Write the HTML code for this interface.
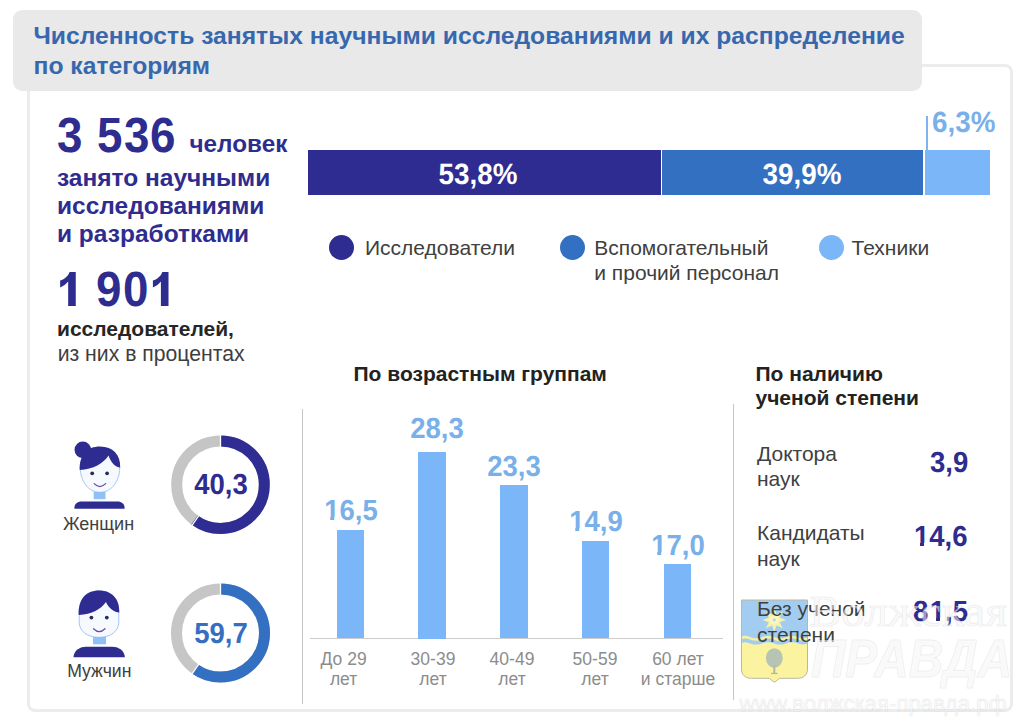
<!DOCTYPE html>
<html lang="ru">
<head>
<meta charset="utf-8">
<title>Численность занятых научными исследованиями</title>
<style>
html,body{margin:0;padding:0;}
body{width:1024px;height:724px;position:relative;overflow:hidden;background:#fff;font-family:"Liberation Sans",sans-serif;}
.abs{position:absolute;white-space:nowrap;line-height:1;}
.b{font-weight:bold;}
#card{position:absolute;left:27px;top:64px;width:980px;height:642px;border:3px solid #ececec;border-radius:8px;background:#fff;}
#titlebox{position:absolute;left:13px;top:10px;width:908.5px;height:81.4px;border-radius:9px;background:#e9e9e9;}
#title{left:33.5px;top:20.5px;font-size:24.68px;line-height:30.2px;color:#3768ad;font-weight:bold;white-space:normal;width:900px;}
.dk{color:#2f2c8f;}
.md{color:#3470c2;}
.lt{color:#7ab0e9;}
.tx{color:#404040;}
.gr{color:#8a8a8a;}
.seg{position:absolute;top:149.5px;height:45px;}
.dot{position:absolute;width:25px;height:25px;border-radius:50%;}
.bar{position:absolute;background:#7ab6f8;width:27.3px;}
.val{font-size:27.5px;font-weight:bold;color:#7ab0e9;transform:translateX(-50%) scaleY(1.055) rotate(0.03deg);transform-origin:50% 84.5%;}
.sy{transform:scaleY(1.055) rotate(0.03deg);transform-origin:0 84.5%;}
.syc{transform:translateX(-50%) scaleY(1.055) rotate(0.03deg);transform-origin:50% 84.5%;}
.ft{position:absolute;background:#fff;top:0.735em;height:0.125em;}
.ax{font-size:17.5px;color:#8c8c8c;transform:translateX(-50%);text-align:center;line-height:19.4px;}
.wmt{color:rgba(255,255,255,0.55);-webkit-text-stroke:1px rgba(120,120,120,0.09);text-shadow:0 0 2px rgba(0,0,0,0.05);}
.bn{font-size:45.7px;transform:scaleY(1.08) rotate(0.03deg);transform-origin:0 83.9%;}
.vline{position:absolute;width:1.4px;background:#c6c6c6;}
</style>
</head>
<body>
<div id="card"></div>
<div id="titlebox"></div>
<div id="title" class="abs">Численность занятых научными исследованиями и их распределение<br>по категориям</div>

<!-- left block -->
<div id="n1"><span class="abs b dk bn" style="left:57.20px;top:113.65px;">3</span><span class="abs b dk bn" style="left:96.85px;top:113.65px;">5</span><span class="abs b dk bn" style="left:123.60px;top:113.65px;">3</span><span class="abs b dk bn" style="left:149.60px;top:113.65px;">6</span></div>
<div class="abs b dk" id="n1s" style="left:189.5px;top:131.5px;font-size:24.3px;">человек</div>
<div class="abs b dk" id="l1" style="left:57px;top:163.6px;font-size:24.5px;line-height:28.1px;">занято научными<br>исследованиями<br>и разработками</div>
<div id="n2"><span class="abs b dk bn" style="left:96.40px;top:267.65px;">9</span><span class="abs b dk bn" style="left:123.30px;top:267.65px;">0</span><svg class="abs" style="left:0;top:0;" width="200" height="320" viewBox="0 0 200 320"><path d="M75.75,306.0 L75.75,272.0 L69.55,272.0 C68.55,275.60 64.75,279.20 60.15,280.60 L60.15,287.40 C63.45,286.20 66.15,284.20 68.15,281.60 L68.15,306.0 Z" fill="#2f2c8f"/><path d="M168.5,306.0 L168.5,272.0 L162.30,272.0 C161.30,275.60 157.50,279.20 152.90,280.60 L152.90,287.40 C156.20,286.20 158.90,284.20 160.90,281.60 L160.90,306.0 Z" fill="#2f2c8f"/></svg></div>
<div class="abs b" id="l2" style="left:57px;top:317.7px;font-size:21px;color:#262626;">исследователей,</div>
<div class="abs" id="l3" style="left:57.7px;top:343.4px;font-size:21.2px;color:#3e3e3e;">из них в процентах</div>

<!-- stacked bar -->
<div class="seg" style="left:307.7px;width:353px;background:#2f2c91;"></div>
<div class="seg" style="left:662.3px;width:260.7px;background:#3470c2;"></div>
<div class="seg" style="left:925px;width:64.7px;background:#7ab6f8;"></div>
<div class="abs b syc" id="p1" style="left:477.5px;top:161px;font-size:27.8px;color:#fff;">53,8%</div>
<div class="abs b syc" id="p2" style="left:802px;top:161px;font-size:27.8px;color:#fff;">39,9%</div>
<div class="abs b lt sy" id="p3" style="left:931.5px;top:108.5px;font-size:27.8px;">6,3%</div>
<div style="position:absolute;left:926px;top:116px;width:1.5px;height:34px;background:#7fb4ee;"></div>

<!-- legend -->
<div class="dot" style="left:329px;top:235px;background:#2f2c91;"></div>
<div class="abs tx" id="g1" style="left:365px;top:236.7px;font-size:21px;">Исследователи</div>
<div class="dot" style="left:560px;top:235px;background:#3470c2;"></div>
<div class="abs tx" id="g2" style="left:594.3px;top:234.7px;font-size:21px;line-height:25px;">Вспомогательный<br>и прочий персонал</div>
<div class="dot" style="left:819px;top:235px;background:#7ab6f8;"></div>
<div class="abs tx" id="g3" style="left:851.5px;top:236.7px;font-size:21px;">Техники</div>

<!-- section titles -->
<div class="abs b" id="t1" style="left:353.5px;top:363.2px;font-size:21px;color:#222;">По возрастным группам</div>
<div class="abs b" id="t2" style="left:755.5px;top:362px;font-size:21px;line-height:24px;color:#222;">По наличию<br>ученой степени</div>

<div class="vline" style="left:302px;top:408.5px;height:295.5px;"></div>
<div class="vline" style="left:732.8px;top:404px;height:296px;"></div>
<div style="position:absolute;left:310px;top:637.8px;width:412.8px;height:1px;background:#cdcdcd;"></div>

<!-- bars -->
<div class="bar" style="left:336.6px;top:530.3px;height:108.2px;"></div>
<div class="bar" style="left:418.4px;top:452px;height:186.5px;"></div>
<div class="bar" style="left:500.4px;top:485.4px;height:153.1px;"></div>
<div class="bar" style="left:582.1px;top:540.8px;height:97.7px;"></div>
<div class="bar" style="left:664px;top:564.4px;height:74.1px;"></div>
<div class="abs val" id="v1" style="left:351px;top:496.8px;">16,5<i class="ft" style="left:0.04em;width:0.193em;"></i><i class="ft" style="left:0.371em;width:0.19em;"></i></div>
<div class="abs val" id="v2" style="left:436.7px;top:414.8px;">28,3</div>
<div class="abs val" id="v3" style="left:514.2px;top:452.8px;">23,3</div>
<div class="abs val" id="v4" style="left:596.3px;top:507.9px;">14,9<i class="ft" style="left:0.04em;width:0.193em;"></i><i class="ft" style="left:0.371em;width:0.19em;"></i></div>
<div class="abs val" id="v5" style="left:678px;top:531.7px;">17,0<i class="ft" style="left:0.04em;width:0.193em;"></i><i class="ft" style="left:0.371em;width:0.19em;"></i></div>
<div class="abs ax" id="a1" style="left:343.6px;top:650.2px;">До 29<br>лет</div>
<div class="abs ax" id="a2" style="left:433px;top:650.2px;">30-39<br>лет</div>
<div class="abs ax" id="a3" style="left:512px;top:650.2px;">40-49<br>лет</div>
<div class="abs ax" id="a4" style="left:595px;top:650.2px;">50-59<br>лет</div>
<div class="abs ax" id="a5" style="left:678px;top:650.2px;">60 лет<br>и старше</div>


<!-- watermark -->
<svg class="abs" id="wm" style="left:0;top:0;" width="1024" height="724" viewBox="0 0 1024 724">
  <defs>
    <clipPath id="shclip"><path d="M741.5,600 L807.5,600 L807.5,669 C807.5,675 803.5,678.3 797.5,678.3 L779.5,678.3 L774.4,682.4 L769.3,678.3 L751.5,678.3 C745.5,678.3 741.5,675 741.5,669 Z"/></clipPath>
  </defs>
  <g clip-path="url(#shclip)">
    <rect x="740" y="598" width="70" height="90" fill="#fcf3a1"/>
    <path d="M740,598 L810,598 L810,642.4 C806,644.8 802,645.0 798,643.4 C794,641.8 790,641.8 786,643.4 C782,645.0 778,645.0 774,643.4 C770,641.8 766,641.8 762,643.4 C758,645.0 754,645.0 750,643.4 C746,641.8 743,642.0 740,643.2 Z" fill="#a3cdf0"/>
    <path d="M740,637.1 C743,635.7 746,635.3 750,636.9 C754,638.5 758,638.7 762,637.1 C766,635.5 770,635.5 774,637.1 C778,638.7 782,638.7 786,637.1 C790,635.5 794,635.5 798,637.1 C802,638.7 806,638.5 810,636.7 L810,639.5 C806,641.1 802,641.3 798,639.7 C794,638.1 790,638.1 786,639.7 C782,641.3 778,641.3 774,639.7 C770,638.1 766,638.1 762,639.7 C758,641.3 754,641.1 750,639.5 C746,637.9 743,638.3 740,639.7 Z" fill="#f6f0a2"/>
    <path d="M774.3,608 L776.6,614.4 L782.7,611.5 L779.8,617.6 L786.2,619.9 L779.8,622.2 L782.7,628.3 L776.6,625.4 L774.3,631.8 L772,625.4 L765.9,628.3 L768.8,622.2 L762.4,619.9 L768.8,617.6 L765.9,611.5 L772,614.4 Z" fill="#f5f1a6"/>
    <path d="M774.3,613.4 L775.6,616.8 L778.9,615.3 L777.4,618.6 L780.8,619.9 L777.4,621.2 L778.9,624.5 L775.6,623 L774.3,626.4 L773,623 L769.7,624.5 L771.2,621.2 L767.8,619.9 L771.2,618.6 L769.7,615.3 L773,616.8 Z" fill="#fbf7c4"/>
    <circle cx="774.3" cy="619.9" r="1.6" fill="#b9d6ea"/>
    <ellipse cx="774.3" cy="658" rx="8.4" ry="9.8" fill="#b7c3b3"/>
    <rect x="773.3" y="665" width="2" height="8.6" fill="#adb9a9"/>
    <rect x="771" y="672.8" width="6.6" height="1.3" fill="#adb9a9"/>
  </g>
  <path d="M741.5,600 L807.5,600 L807.5,669 C807.5,675 803.5,678.3 797.5,678.3 L779.5,678.3 L774.4,682.4 L769.3,678.3 L751.5,678.3 C745.5,678.3 741.5,675 741.5,669 Z" fill="none" stroke="#bdb79c" stroke-width="1"/>
</svg>
<!-- right column -->
<div class="abs tx" id="d1" style="left:757px;top:441.2px;font-size:21px;line-height:25.2px;">Доктора<br>наук</div>
<div class="abs b dk sy" id="dv1" style="right:55.7px;top:448.6px;font-size:27.5px;">3,9</div>
<div class="abs tx" id="d2" style="left:757px;top:519.7px;font-size:21px;line-height:26px;">Кандидаты<br>наук</div>
<div class="abs b dk sy" id="dv2" style="right:56.3px;top:522.6px;font-size:27.5px;">14,6<i class="ft" style="left:0.04em;width:0.193em;"></i><i class="ft" style="left:0.371em;width:0.19em;"></i></div>
<div class="abs tx" id="d3" style="left:757px;top:596px;font-size:21px;line-height:25.8px;">Без ученой<br>степени</div>
<div class="abs b dk sy" id="dv3" style="right:56.3px;top:597.5px;font-size:27.5px;"><span style="letter-spacing:1.4px">8</span>1,5<i class="ft" style="left:calc(0.596em + 1.4px);width:0.193em;"></i><i class="ft" style="left:calc(0.927em + 1.4px);width:0.19em;"></i></div>

<!-- donuts -->
<svg class="abs" style="left:0;top:0;" width="1024" height="724" viewBox="0 0 1024 724">

  <!-- woman icon -->
  <g id="woman">
    <path d="M80.3,468 C80.3,455 88,447.5 100,447.5 C112,447.5 119.7,455 119.7,468 C119.7,481 111.5,492.3 100,492.3 C88.5,492.3 80.3,481 80.3,468 Z" fill="#f6f9fe" stroke="#a3c8f0" stroke-width="1"/>
    <rect x="93.7" y="492" width="11.8" height="7.2" fill="#8fc0f6"/>
    <circle cx="82.8" cy="449.8" r="8.3" fill="#2f2c91"/>
    <path d="M79.7,470 C79.3,455 87,446.6 100,446.6 C113,446.6 120.6,455 120.2,467.5 C115.5,467.5 110.5,462 108.6,455.5 C104,463 93,469.5 79.7,470 Z" fill="#2f2c91"/>
    <circle cx="92.2" cy="473.3" r="1.9" fill="#2b2a55"/>
    <circle cx="107.1" cy="473.3" r="1.9" fill="#2b2a55"/>
    <path d="M94.2,483.6 Q99.8,489.5 105.6,483.6" fill="none" stroke="#6b4fa0" stroke-width="1.3" stroke-linecap="round"/>
    <path d="M74.4,508.7 L74.4,508 C74.4,504 77.5,501.6 81.5,501.6 L117.5,501.6 C121.5,501.6 124.6,504 124.6,508 L124.6,508.7 Z" fill="#2f2c91"/>
  </g>
  <!-- man icon -->
  <g id="man">
    <path d="M79.2,612 C79.2,598 87,591 99,591 C111,591 118.8,598 118.8,612 L118.8,622 C118.8,631 111,637.3 99,637.3 C87,637.3 79.2,631 79.2,622 Z" fill="#f6f9fe" stroke="#a3c8f0" stroke-width="1"/>
    <rect x="93" y="637" width="13" height="7.3" fill="#8fc0f6"/>
    <path d="M78.7,615 C78.2,599 86,590.5 99,590.5 C112,590.5 119.8,599 119.3,612.5 C114.5,612.5 108.5,608 106,602 C101,609 92,614.5 78.7,615 Z" fill="#2f2c91"/>
    <circle cx="91.4" cy="617.6" r="1.9" fill="#2b2a55"/>
    <circle cx="106.8" cy="617.6" r="1.9" fill="#2b2a55"/>
    <path d="M93.5,628.8 Q99.2,634.5 105,628.8" fill="none" stroke="#6b4fa0" stroke-width="1.3" stroke-linecap="round"/>
    <path d="M73.5,657.3 L73.5,656.5 C74.5,650 80,646.7 86,646.7 L112.3,646.7 C118.3,646.7 123.8,650 124.8,656.5 L124.8,657.3 Z" fill="#2f2c91"/>
  </g>
  <g id="donut1" fill="none" stroke-width="11">
    <circle cx="220.5" cy="484.7" r="43.8" stroke="#c5c5c5"/>
    <circle cx="220.5" cy="484.7" r="43.8" stroke="#2f2c93" stroke-dasharray="165.1 276.5" transform="rotate(-90 220.5 484.7)"/>
    <line x1="220.50" y1="447.50" x2="220.50" y2="433.50" stroke="#fff" stroke-width="1.3"/><line x1="199.33" y1="514.85" x2="191.32" y2="526.33" stroke="#fff" stroke-width="1.3"/>
  </g>
  <g id="donut2" fill="none" stroke-width="11">
    <circle cx="220.5" cy="633" r="44" stroke="#c6c6c6"/>
    <circle cx="220.5" cy="633" r="44" stroke="#3470c2" stroke-dasharray="165.1 276.5" transform="rotate(-90 220.5 633)"/>
    <line x1="220.50" y1="596.00" x2="220.50" y2="582.00" stroke="#fff" stroke-width="1.3"/><line x1="199.33" y1="663.35" x2="191.32" y2="674.83" stroke="#fff" stroke-width="1.3"/>
  </g>
</svg>
<div class="abs b dk syc" id="dn1" style="left:220.5px;top:471px;font-size:27.5px;">40,3</div>
<div class="abs b md syc" id="dn2" style="left:220.5px;top:619.8px;font-size:27.5px;">59,7</div>
<div class="abs tx" id="w1" style="left:98.5px;top:514.8px;font-size:18px;transform:translateX(-50%);">Женщин</div>
<div class="abs tx" id="w2" style="left:99.3px;top:662.7px;font-size:17.6px;transform:translateX(-50%);">Мужчин</div>

<div class="abs wmt" id="wm1" style="left:809px;top:589.5px;font-family:'Liberation Serif',serif;font-size:43.5px;letter-spacing:0;transform-origin:0 0;transform:scaleX(1.1);">Волжская</div>
<div class="abs wmt" id="wm2" style="left:811px;top:630.6px;font-size:54px;font-weight:bold;font-style:italic;letter-spacing:0;transform-origin:0 0;transform:scaleX(0.885);">ПРАВДА</div>
<div class="abs wmt" id="wm3" style="left:739.3px;top:693.3px;font-size:22.2px;letter-spacing:0;">www.волжская-правда.рф</div>
</body>
</html>
